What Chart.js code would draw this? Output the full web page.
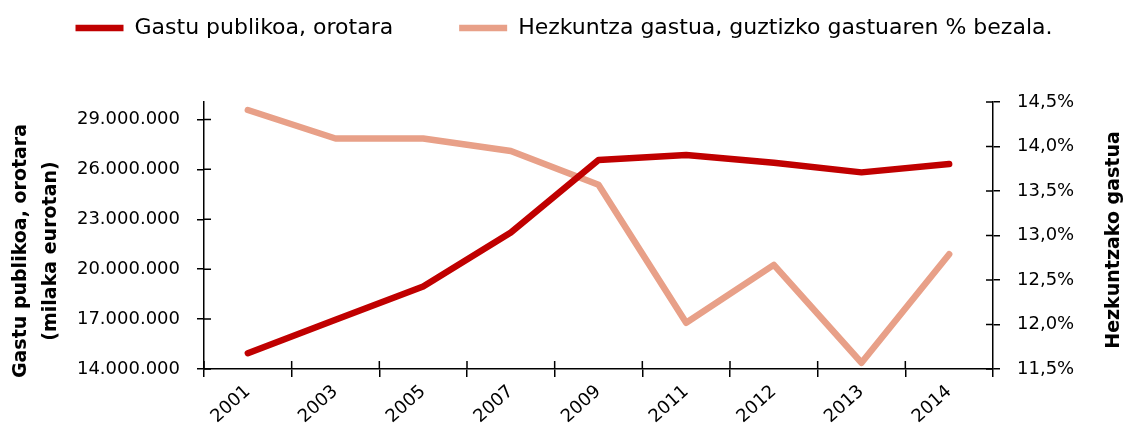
<!DOCTYPE html>
<html>
<head>
<meta charset="utf-8">
<script src="https://cdn.jsdelivr.net/npm/chart.js@4/dist/chart.umd.min.js"></script>
<style>
    html, body { margin: 0; padding: 0; background: #fff; }
    #wrap { width: 1128px; height: 438px; }
</style>
</head>
<body>
<div id="wrap"><canvas id="chart" width="1128" height="438"></canvas></div>
<script>
// Data
const years = ['2001', '2003', '2005', '2007', '2009', '2011', '2012', '2013', '2014'];
const gastuPublikoa = [14950000, 16960000, 18960000, 22200000, 26560000, 26860000, 26400000, 25820000, 26320000];
const hezkuntzaPct = [14.41, 14.09, 14.09, 13.95, 13.57, 12.02, 12.67, 11.57, 12.79];
const leftTicks = [14000000, 17000000, 20000000, 23000000, 26000000, 29000000];

const seriesLabels = ['Gastu publikoa, orotara', 'Hezkuntza gastua, guztizko gastuaren % bezala.'];
const leftTitle = ['Gastu publikoa, orotara', '(milaka eurotan)'];
const rightTitle = 'Hezkuntzako gastua';

(function(Chart) {
    'use strict';

    const FONT = "'DejaVu Sans', sans-serif";
    const RED = '#C00000';
    const PINK = '#E8A088';
    const LEGEND_GAP = 66;   // horizontal space between the two legend items

    Chart.defaults.font.family = FONT;
    Chart.defaults.color = '#000';

    const fmtThousands = v => Math.round(v).toString().replace(/\B(?=(\d{3})+(?!\d))/g, '.');
    const fmtPct = v => v.toFixed(1).replace('.', ',') + '%';

    // legend gets a fixed height; legend padding is only wanted horizontally
    const legendSpacing = {
        id: 'legendSpacing',
        beforeInit(chart) {
            const legend = chart.legend;
            const origFit = legend.fit;
            legend.fit = function() {
                origFit.call(this);
                this.height = 102;
            };
        },
        afterLayout(chart) {
            chart.legend.top = 17 - LEGEND_GAP;
        }
    };

    // ticks that cross the axis line (Excel style) + rotated axis titles
    const axisDecor = {
        id: 'axisDecor',
        afterDraw(chart) {
            const ctx = chart.ctx;
            const area = chart.chartArea;
            const yl = chart.scales.y, yr = chart.scales.y1;
            ctx.save();
            ctx.strokeStyle = '#000';
            ctx.lineWidth = 1.5;
            ctx.beginPath();
            yl.ticks.forEach(t => {
                const y = yl.getPixelForValue(t.value);
                ctx.moveTo(area.left, y); ctx.lineTo(area.left + 7, y);
            });
            yr.ticks.forEach(t => {
                const y = yr.getPixelForValue(t.value);
                ctx.moveTo(area.right - 7, y); ctx.lineTo(area.right, y);
            });
            const step = (area.right - area.left) / years.length;
            for (let i = 0; i < years.length; i++) {
                const x = area.left + i * step;
                ctx.moveTo(x, area.bottom - 8); ctx.lineTo(x, area.bottom);
            }
            ctx.stroke();

            ctx.fillStyle = '#000';
            ctx.font = 'bold 19px ' + FONT;
            ctx.textAlign = 'center';
            ctx.textBaseline = 'middle';
            ctx.translate(21, 251);
            ctx.rotate(-Math.PI / 2);
            ctx.fillText(leftTitle[0], 0, 0);
            ctx.fillText(leftTitle[1], 0, 30);
            ctx.restore();

            ctx.save();
            ctx.fillStyle = '#000';
            ctx.font = 'bold 19px ' + FONT;
            ctx.textAlign = 'center';
            ctx.textBaseline = 'middle';
            ctx.translate(1114, 240);
            ctx.rotate(-Math.PI / 2);
            ctx.fillText(rightTitle, 0, 0);
            ctx.restore();
        }
    };

    const ctx = document.getElementById('chart').getContext('2d');
    new Chart(ctx, {
        type: 'line',
        data: {
            labels: years,
            datasets: [
                {
                    label: seriesLabels[0],
                    data: gastuPublikoa,
                    yAxisID: 'y',
                    borderColor: RED,
                    backgroundColor: RED,
                    borderWidth: 6.5,
                    borderCapStyle: 'round',
                    borderJoinStyle: 'round',
                    pointRadius: 0,
                    tension: 0,
                    order: 1
                },
                {
                    label: seriesLabels[1],
                    data: hezkuntzaPct,
                    yAxisID: 'y1',
                    borderColor: PINK,
                    backgroundColor: PINK,
                    borderWidth: 6.5,
                    borderCapStyle: 'round',
                    borderJoinStyle: 'round',
                    pointRadius: 0,
                    tension: 0,
                    order: 2
                }
            ]
        },
        options: {
            responsive: false,
            animation: false,
            layout: { padding: 0 },
            plugins: {
                legend: {
                    display: true,
                    position: 'top',
                    labels: {
                        usePointStyle: true,
                        pointStyle: 'line',
                        pointStyleWidth: 48,
                        boxHeight: 6,
                        padding: LEGEND_GAP,
                        font: { size: 22 },
                        color: '#000'
                    }
                },
                tooltip: { enabled: false }
            },
            scales: {
                x: {
                    offset: true,
                    grid: { display: true, offset: true, drawOnChartArea: false, drawTicks: true, tickLength: 8, color: '#000', lineWidth: 1.5 },
                    border: { display: true, color: '#000', width: 1.5 },
                    ticks: { minRotation: 42, maxRotation: 42, padding: 4, font: { size: 18 }, color: '#000' },
                    afterFit(scale) { scale.height = 438 - 369; }
                },
                y: {
                    position: 'left',
                    min: 14000000,
                    max: 30050000,
                    grid: { display: true, drawOnChartArea: false, tickLength: 7, color: '#000', lineWidth: 1.5 },
                    border: { display: true, color: '#000', width: 1.5 },
                    ticks: { padding: 17, font: { size: 18 }, color: '#000', callback: v => fmtThousands(v) },
                    afterBuildTicks(scale) {
                        scale.ticks = leftTicks.map(v => ({ value: v }));
                    },
                    afterFit(scale) { scale.width = 204; }
                },
                y1: {
                    position: 'right',
                    min: 11.5,
                    max: 14.5,
                    grid: { display: true, drawOnChartArea: false, tickLength: 7, color: '#000', lineWidth: 1.5 },
                    border: { display: true, color: '#000', width: 1.5 },
                    ticks: { stepSize: 0.5, padding: 17, font: { size: 18 }, color: '#000', callback: v => fmtPct(v) },
                    afterFit(scale) { scale.width = 1128 - 993; }
                }
            }
        },
        plugins: [legendSpacing, axisDecor]
    });
})(Chart);
</script>
</body>
</html>
